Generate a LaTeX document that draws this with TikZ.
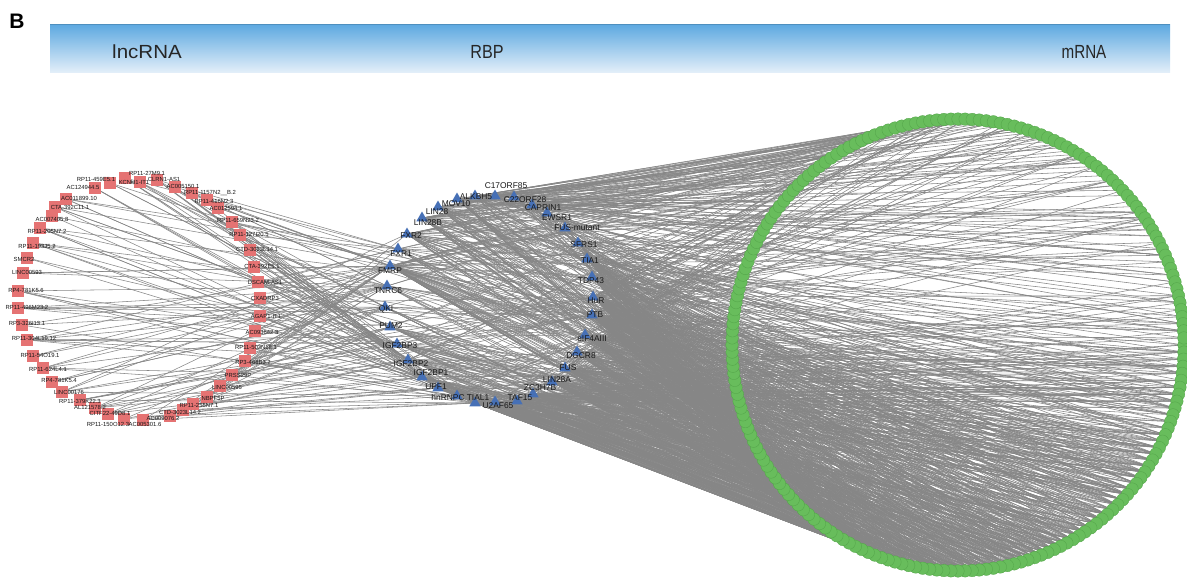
\documentclass[tikz,border=0pt]{standalone}
\usepackage{fontspec}
\setmainfont{Liberation Sans}
\usetikzlibrary{shapes.geometric}
\definecolor{lncc}{RGB}{229,115,115}
\definecolor{rbpc}{RGB}{70,112,182}
\definecolor{mrc}{RGB}{104,189,92}
\definecolor{mrcd}{RGB}{84,165,74}
\definecolor{edgec}{RGB}{134,134,134}
\definecolor{bartop}{RGB}{92,168,224}
\definecolor{barbot}{RGB}{226,238,249}
\pgfdeclarelayer{edgelayer}
\pgfsetlayers{edgelayer,main}
\tikzset{
 lnc/.style={rectangle, fill=lncc, minimum size=12pt, inner sep=0pt},
 rbp/.style={regular polygon, regular polygon sides=3, fill=rbpc, minimum size=13pt, inner sep=0pt},
 mrna/.style={circle, fill=mrc, draw=mrcd, line width=0.35pt, minimum size=12.5pt, inner sep=0pt},
 lnclbl/.style={font=\fontsize{5.9}{6}\selectfont, inner sep=0pt, text=black!90},
 rbplbl/.style={font=\fontsize{8.4}{9}\selectfont, inner sep=0pt, text=black!90},
 edge/.style={draw=edgec, line width=0.55pt},
 head/.style={font=\fontsize{19}{20}\selectfont, text=black!85, inner sep=0pt}
}
\begin{document}
\begin{tikzpicture}[x=1pt,y=-1pt]
\useasboundingbox (0,0) rectangle (1187,579);
\pgfmathsetseed{4242}
% header
\node[font=\fontsize{21}{22}\selectfont\bfseries, inner sep=0pt] (lblB) at (17,21) {B};
\shade[top color=bartop, bottom color=barbot] (50,24) rectangle (1170,72);
\draw[bartop!85!black, line width=0.6pt] (50,24.3) -- (1170,24.3);
\node[head] (hl) at (147,52) {\scalebox{1.08}[1]{lncRNA}};
\node[head] (hr) at (487,52) {\scalebox{0.85}[1]{RBP}};
\node[head] (hm) at (1084,52) {\scalebox{0.8}[1]{mRNA}};
% lncRNA nodes
\foreach \n/\sx/\sy in {1/110/183, 2/95/188, 3/125/178, 4/140/182, 5/157/180, 6/175/187, 7/192/193, 8/66/199, 9/207/200, 10/218/208, 11/55/207, 12/232/222, 13/52/216, 14/40/228, 15/240/235, 16/33/243, 17/250/250, 18/27/258, 19/254/267, 20/23/273, 21/258/282, 22/18/291, 23/260/298, 24/18/308, 25/260/316, 26/22/325, 27/255/331, 28/27/340, 29/250/348, 30/33/356, 31/245/361, 32/43/368, 33/232/375, 34/52/382, 35/220/386, 36/62/392, 37/207/397, 38/80/400, 39/193/404, 40/95/408, 41/183/410, 42/108/414, 43/170/416, 44/124/419, 45/143/420}
  {\node[lnc] (l\n) at (\sx,\sy) {};}
% RBP nodes
\foreach \n/\px/\py in {1/495/196, 2/475/196, 3/457/199, 4/514/197, 5/532/205, 6/438/207, 7/547/213, 8/422/218, 9/565/228, 10/407/234, 11/578/243, 12/398/249, 13/587/259, 14/390/266, 15/592/277, 16/387/286, 17/593/297, 18/385/307, 19/592/315, 20/390/327, 21/585/335, 22/397/344, 23/577/352, 24/408/360, 25/565/368, 26/422/377, 27/552/382, 28/438/388, 29/533/394, 30/457/396, 31/517/401, 32/475/403, 33/495/402}
  {\node[rbp] (r\n) at (\px,\py) {};}
% mRNA nodes
\foreach \j in {0,...,199}
  {\node[mrna] (m\j) at ({958+226*cos(\j*1.8)},{345+226*sin(\j*1.8)}) {};}
% edges
\begin{pgfonlayer}{edgelayer}
\foreach \i in {1,...,45}{
  \pgfmathtruncatemacro\gq{{14,16,18,20,22,24,26,28,30,32}[mod(\i*3,10)]}
  \draw[edge] (l\i.center) -- (r\gq.center);
  \foreach \q/\w in {14/0.28,16/0.22,18/0.22,20/0.22,22/0.2,24/0.2,26/0.18,28/0.15,30/0.15,32/0.14,33/0.1,17/0.2,19/0.1,21/0.1,12/0.1,25/0.08,10/0.06}{
    \pgfmathtruncatemacro\hit{rnd<\w}
    \ifnum\hit=1 \draw[edge] (l\i.center) -- (r\q.center);\fi
  }
}
\foreach \j in {0,...,199}{
  \pgfmathsetmacro\fl{0.1+2.6*max(0,sin(\j*1.8+15))}
  \pgfmathsetmacro\fu{0.6*max(0,-sin(\j*1.8))}
  \pgfmathtruncatemacro\up{sin(\j*1.8)<0}
  \ifnum\up=1
    \pgfmathtruncatemacro\gq{{1,2,3,6,8,14,4,5,17,10}[mod(\j,10)]}
  \else
    \pgfmathtruncatemacro\gq{{17,19,21,23,25,27,29,31,33,15,13}[mod(\j,11)]}
  \fi
  \draw[edge] (r\gq.center) -- (m\j.center);
  \foreach \q/\wl/\wu in {1/0.06/0.15,2/0.06/0.12,3/0.08/0.12,4/0.05/0.1,5/0.06/0.1,6/0.12/0.12,7/0.06/0.08,8/0.15/0.12,9/0.08/0.06,10/0.08/0.08,11/0.08/0.06,12/0.06/0.06,13/0.12/0.05,14/0.2/0.12,15/0.2/0.05,16/0.06/0.02,17/0.45/0.1,18/0.05/0.02,19/0.35/0.05,20/0.08/0.02,21/0.3/0.03,22/0.12/0.02,23/0.25/0.02,24/0.12/0.02,25/0.3/0.03,26/0.15/0.02,27/0.25/0.02,28/0.15/0.02,29/0.2/0.02,30/0.12/0.02,31/0.2/0.02,32/0.2/0.02,33/0.25/0.02}{
    \pgfmathtruncatemacro\hit{rnd<(\wl*\fl+\wu*\fu)}
    \ifnum\hit=1 \draw[edge] (r\q.center) -- (m\j.center);\fi
  }
}
\end{pgfonlayer}
% lncRNA labels
\foreach \n/\tx/\ty/\t in {1/96/179/RP11-459E5.1, 2/83/187/AC124944.5, 3/147/173/RP11-27M9.1, 4/134/182/KCNH1-IT1, 5/164/179/CLRN1-AS1, 6/183/186/AC005150.1, 7/210/193/RP11-1157N2\_\_B.2, 8/79/198/AC011899.10, 9/214/201/RP11-416N2.3, 10/226/208/AC012594.1, 11/70/207/CTA-392C11.1, 12/238/220/RP11-659N23.2, 13/52/219/AC007405.8, 14/47/231/RP11-205N7.2, 15/249/234/RP11-127I20.5, 16/37/246/RP11-193J5.2, 17/257/249/CTD-3023L14.1, 18/24/259/SMCR2, 19/262/266/CTA-392E5.1, 20/27/272/LINC00593, 21/265/282/DSCAM-AS1, 22/26/290/RP4-781K5.6, 23/265/298/CXADRP3, 24/27/307/RP11-496M23.2, 25/266/316/AGAP1-IT1, 26/27/323/RP3-326I13.1, 27/262/332/AC093642.3, 28/34/338/RP11-304L19.12, 29/256/347/RP11-503N18.1, 30/40/355/RP11-54O19.1, 31/253/362/RP3-468B3.2, 32/48/369/RP11-624L4.1, 33/238/375/PRSS29P, 34/59/380/RP4-781K5.4, 35/227/387/LINC00595, 36/69/392/LINC00176, 37/213/398/NBPF5P, 38/80/401/RP11-379K22.3, 39/199/405/RP11-255N7.1, 40/90/407/AL121578.2, 41/180/412/CTD-3023L14.2, 42/110/413/CITF22-49D8.1, 43/163/418/AC009076.2, 44/108/424/RP11-150O12.3, 45/145/424/AC005301.6}
  {\node[lnclbl] (lt\n) at (\tx,\ty) {\t};}
% RBP labels
\foreach \n/\tx/\ty/\t in {1/506/186/C17ORF85, 2/476/197/ALKBH5, 3/456/204/MOV10, 4/525/200/C22ORF28, 5/543/208/CAPRIN1, 6/437/212/LIN28, 7/557/218/EWSR1, 8/428/223/LIN28B, 9/577/228/FUS-mutant, 10/411/236/FXR2, 11/584/245/SFRS1, 12/401/254/FXR1, 13/590/261/TIA1, 14/390/271/FMRP, 15/591/281/TDP43, 16/388/291/TNRC6, 17/596/301/HuR, 18/386/309/QKI, 19/595/315/PTB, 20/391/326/PUM2, 21/592/339/eIF4AIII, 22/400/346/IGF2BP3, 23/581/356/DGCR8, 24/411/364/IGF2BP2, 25/568/368/FUS, 26/431/373/IGF2BP1, 27/557/380/LIN28A, 28/436/387/UPF1, 29/540/388/ZC3H7B, 30/448/397/hnRNPC, 31/520/398/TAF15, 32/478/398/TIAL1, 33/498/406/U2AF65}
  {\node[rbplbl] (rt\n) at (\tx,\ty) {\t};}
\end{tikzpicture}
\end{document}
